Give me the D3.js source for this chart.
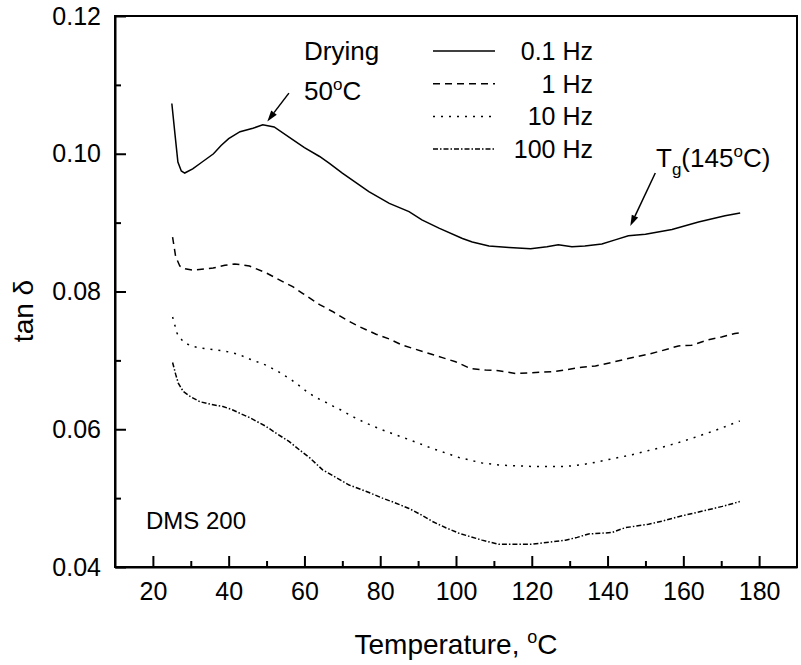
<!DOCTYPE html>
<html>
<head>
<meta charset="utf-8">
<script src="https://cdn.jsdelivr.net/npm/d3@7"></script>
<style>
  body { margin: 0; background: #fff; }
  svg { display: block; font-family: "Liberation Sans", Arial, sans-serif; }
  .axis path, .axis line { stroke: #000; }
  .axis text { font-size: 25px; fill: #000; }
</style>
</head>
<body>
<div id="chart"></div>
<script>
// tan delta vs temperature, four frequencies
const T_01 = [25, 25.8, 26.6, 27.5, 28.4, 30.5, 33, 36, 38, 40, 43, 46.4, 49, 52, 56.8, 60, 64, 66.6, 70, 73.6, 77, 82.4, 87.6, 91, 95.5, 101.7, 104.3, 108.7, 114, 119.7, 124, 127, 130.6, 134, 138.5, 142, 145.5, 150, 157, 164, 171, 175];
const V_01 = [0.1073, 0.1030, 0.0988, 0.0975, 0.0972, 0.0978, 0.0988, 0.1000, 0.1012, 0.1022, 0.1032, 0.1037, 0.1042, 0.1039, 0.1021, 0.1009, 0.0996, 0.0986, 0.0972, 0.0958, 0.0945, 0.0928, 0.0916, 0.0904, 0.0892, 0.0877, 0.0872, 0.0866, 0.0864, 0.0862, 0.0865, 0.0868, 0.0865, 0.0866, 0.0869, 0.0875, 0.0881, 0.0883, 0.0890, 0.0901, 0.0910, 0.0914];

const T_1 = [25.2, 26, 27.1, 28.5, 30.6, 35.9, 39, 41.6, 45.5, 49.9, 53, 56.9, 59.6, 64, 67.4, 71, 74.5, 78.9, 82.4, 85.9, 89.4, 92.9, 96.4, 99.9, 103.9, 107.8, 111.3, 115.7, 120.1, 123.2, 126.2, 133.2, 136.8, 141.1, 147.3, 150.8, 154.3, 158.7, 162.2, 166.6, 170.1, 173.6, 175];
const V_1 = [0.0879, 0.0851, 0.0837, 0.0833, 0.0831, 0.0834, 0.0838, 0.0840, 0.0837, 0.0827, 0.0818, 0.0807, 0.0797, 0.0781, 0.0771, 0.0759, 0.0749, 0.0738, 0.0731, 0.0722, 0.0716, 0.0710, 0.0704, 0.0698, 0.0688, 0.0686, 0.0685, 0.0681, 0.0682, 0.0683, 0.0684, 0.0690, 0.0692, 0.0697, 0.0705, 0.0709, 0.0714, 0.0721, 0.0722, 0.0730, 0.0734, 0.0739, 0.0740];

const T_10 = [25.2, 26.4, 28, 30, 32.4, 36.8, 39.4, 42.5, 45.5, 49.9, 53, 56.5, 58.7, 61, 63.1, 65.3, 67.4, 69.6, 72.5, 76.2, 80.6, 84, 87.6, 93.8, 100.8, 106.9, 111.3, 115.7, 120.1, 124.5, 128.9, 132.5, 135.9, 142, 146.5, 150.8, 155.2, 159.6, 164, 168.3, 171.6, 174.9];
const V_10 = [0.0763, 0.0739, 0.0727, 0.0721, 0.0718, 0.0715, 0.0713, 0.0709, 0.0702, 0.0693, 0.0684, 0.0672, 0.0663, 0.0653, 0.0646, 0.0640, 0.0634, 0.0628, 0.0619, 0.0609, 0.0599, 0.0592, 0.0585, 0.0572, 0.0559, 0.0551, 0.0548, 0.0547, 0.0546, 0.0546, 0.0546, 0.0548, 0.0551, 0.0558, 0.0563, 0.0569, 0.0575, 0.0582, 0.0590, 0.0598, 0.0605, 0.0612];

const T_100 = [25.2, 26, 26.7, 28, 30, 32.4, 35.5, 38.5, 41.1, 43, 45.5, 49.9, 52.6, 56, 58.7, 61.5, 64.8, 67.4, 71.8, 76.2, 80.6, 84, 87.6, 90.7, 93.8, 97.3, 100.8, 106.9, 111.3, 115.7, 120.1, 124.5, 128.9, 132, 135, 141.1, 144.6, 150.8, 154.7, 158.7, 165.7, 170.3, 174.9];
const V_100 = [0.0697, 0.0680, 0.0667, 0.0655, 0.0647, 0.0640, 0.0636, 0.0633, 0.0628, 0.0623, 0.0617, 0.0604, 0.0594, 0.0582, 0.0570, 0.0558, 0.0541, 0.0533, 0.0519, 0.0510, 0.0500, 0.0493, 0.0485, 0.0476, 0.0466, 0.0457, 0.0449, 0.0439, 0.0433, 0.0433, 0.0433, 0.0436, 0.0439, 0.0443, 0.0448, 0.0450, 0.0457, 0.0462, 0.0467, 0.0473, 0.0482, 0.0488, 0.0495];

const SERIES = ["0.1 Hz", "1 Hz", "10 Hz", "100 Hz"];
const X_TICKS = [20, 40, 60, 80, 100, 120, 140, 160, 180];
const X_MINOR = [30, 50, 70, 90, 110, 130, 150, 170];
const Y_TICKS = [0.04, 0.06, 0.08, 0.10, 0.12];
const Y_MINOR = [0.05, 0.07, 0.09, 0.11];

const W = 801, H = 665;
const M = {top: 16, right: 4, bottom: 98, left: 115};
const innerW = W - M.left - M.right;
const innerH = H - M.top - M.bottom;

const DASH = ["none", "7,5", "2,6", "5,2,1.5,2"];

const svg = d3.select("#chart").append("svg").attr("width", W).attr("height", H);
const g = svg.append("g").attr("transform", `translate(${M.left},${M.top})`);

const x = d3.scaleLinear().domain([10, 190]).range([0, innerW]);
const y = d3.scaleLinear().domain([0.04, 0.12]).range([innerH, 0]);

// frame (top / right)
g.append("rect").attr("width", innerW).attr("height", innerH)
  .attr("fill", "none").attr("stroke", "#000").attr("stroke-width", 2);

// minor ticks
g.append("g").attr("class", "axis")
  .call(d3.axisLeft(y).tickValues(Y_MINOR).tickSize(-6).tickFormat(""))
  .call(a => a.select(".domain").remove())
  .selectAll("line").attr("stroke-width", 2);
g.append("g").attr("class", "axis").attr("transform", `translate(0,${innerH})`)
  .call(d3.axisBottom(x).tickValues(X_MINOR).tickSize(-6).tickFormat(""))
  .call(a => a.select(".domain").remove())
  .selectAll("line").attr("stroke-width", 2);

// major axes
g.append("g").attr("class", "axis")
  .call(d3.axisLeft(y).tickValues(Y_TICKS).tickSize(-11).tickSizeOuter(0).tickPadding(14).tickFormat(d3.format(".2f")))
  .call(a => a.select(".domain").attr("stroke-width", 2))
  .selectAll("line").attr("stroke-width", 2);
g.append("g").attr("class", "axis").attr("transform", `translate(0,${innerH})`)
  .call(d3.axisBottom(x).tickValues(X_TICKS).tickSize(-11).tickSizeOuter(0).tickPadding(15.5).tickFormat(d3.format("d")))
  .call(a => a.select(".domain").attr("stroke-width", 2))
  .selectAll("line").attr("stroke-width", 2);

// curves
const line = d3.line().x(d => x(d[0])).y(d => y(d[1]));
const curves = [[T_01, V_01], [T_1, V_1], [T_10, V_10], [T_100, V_100]];
curves.forEach(([ts, vs], i) => {
  g.append("path")
    .datum(d3.zip(ts, vs))
    .attr("fill", "none").attr("stroke", "#000").attr("stroke-width", 1.5)
    .attr("stroke-dasharray", DASH[i])
    .attr("d", line);
});

// legend
const leg = g.append("g");
SERIES.forEach((s, i) => {
  const base = 44 + i * 32.7;
  leg.append("line").attr("x1", 318).attr("x2", 380)
    .attr("y1", base - 9).attr("y2", base - 9)
    .attr("stroke", "#000").attr("stroke-width", 1.5).attr("stroke-dasharray", DASH[i]);
  leg.append("text").attr("x", 478).attr("y", base)
    .attr("text-anchor", "end").attr("font-size", 25).text(s);
});

// annotations
function arrow(t0, v0, t1, v1) {
  const x0 = x(t0), y0 = y(v0), x1 = x(t1), y1 = y(v1);
  const ang = Math.atan2(y1 - y0, x1 - x0);
  const L = 11, Wd = 3.5;
  const bx = x1 - L * Math.cos(ang), by = y1 - L * Math.sin(ang);
  g.append("line").attr("x1", x0).attr("y1", y0).attr("x2", bx).attr("y2", by)
    .attr("stroke", "#000").attr("stroke-width", 1.5);
  g.append("path")
    .attr("d", `M${x1},${y1}L${bx + Wd * Math.sin(ang)},${by - Wd * Math.cos(ang)}L${bx - Wd * Math.sin(ang)},${by + Wd * Math.cos(ang)}Z`)
    .attr("fill", "#000");
}
arrow(55.9, 0.1088, 50.2, 0.1047);
arrow(152.6, 0.0972, 146, 0.0895);

g.append("text").attr("x", 189).attr("y", 44).attr("font-size", 26).text("Drying");
const t50 = g.append("text").attr("x", 189).attr("y", 83.5).attr("font-size", 26);
t50.append("tspan").text("50");
t50.append("tspan").attr("font-size", 17).attr("dy", -10).text("o");
t50.append("tspan").attr("dy", 10).text("C");

const tg = g.append("text").attr("x", 541).attr("y", 150.5).attr("font-size", 26);
tg.append("tspan").text("T");
tg.append("tspan").attr("font-size", 17).attr("dy", 8).text("g");
tg.append("tspan").attr("dy", -8).text("(145");
tg.append("tspan").attr("font-size", 17).attr("dy", -10).text("o");
tg.append("tspan").attr("dy", 10).text("C)");

g.append("text").attr("x", 31).attr("y", 513).attr("font-size", 24).text("DMS 200");

// axis titles
const xt = svg.append("text").attr("x", M.left + innerW / 2).attr("y", 654)
  .attr("text-anchor", "middle").attr("font-size", 28);
xt.append("tspan").text("Temperature, ");
xt.append("tspan").attr("font-size", 18).attr("dy", -11).text("o");
xt.append("tspan").attr("dy", 11).text("C");

svg.append("text").attr("transform", "translate(33,311) rotate(-90)")
  .attr("text-anchor", "middle").attr("font-size", 28).text("tan δ");
</script>
</body>
</html>
